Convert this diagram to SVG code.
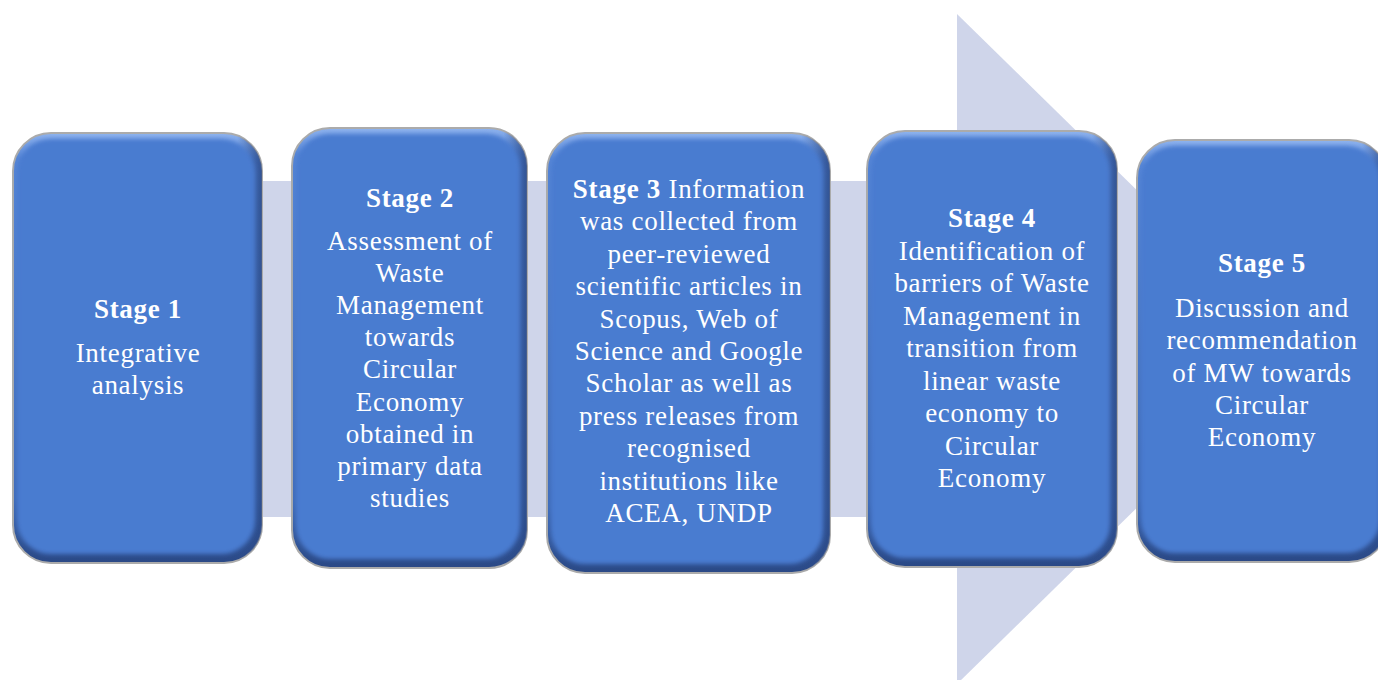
<svg xmlns="http://www.w3.org/2000/svg" width="1378" height="680" viewBox="0 0 1378 680">
  <defs>
    <style>
      .t { font-family: "Liberation Serif", "Times New Roman", serif; font-size: 27px; fill: #ffffff; text-anchor: middle; letter-spacing: 0.7px; }
      .b { font-weight: bold; }
      .rim { fill: url(#bevel); stroke: #ababab; stroke-width: 2; }
      .side { fill: url(#sideShade); }
      .body { fill: #4a7bd0; filter: url(#soft); }
    </style>
    <linearGradient id="bevel" x1="0" y1="0" x2="0" y2="1">
      <stop offset="0" stop-color="#8fb3ee"/>
      <stop offset="0.06" stop-color="#5585d6"/>
      <stop offset="0.85" stop-color="#3f6bb8"/>
      <stop offset="1" stop-color="#2a4885"/>
    </linearGradient>
    <linearGradient id="sideShade" x1="0" y1="0" x2="1" y2="0">
      <stop offset="0.9" stop-color="#2a4885" stop-opacity="0"/>
      <stop offset="1" stop-color="#2a4885" stop-opacity="0.8"/>
    </linearGradient>
    <filter id="soft" x="-5%" y="-5%" width="110%" height="110%">
      <feGaussianBlur stdDeviation="2"/>
    </filter>
  </defs>

  <rect width="1378" height="680" fill="#ffffff"/>

  <!-- background process arrow -->
  <g id="connectors">
    <rect x="30" y="181" width="930" height="336" fill="#cfd5ea"/>
    <polygon points="957,14 1299,349 957,684" fill="#cfd5ea"/>
  </g>

  <!-- Stage 1 -->
  <g id="stage1">
    <rect class="rim" x="13" y="133" width="249" height="430" rx="38"/>
    <rect class="side" x="13" y="133" width="249" height="430" rx="38"/>
    <rect class="body" x="17" y="139" width="238" height="415" rx="34"/>
    <text class="t b" x="138" y="318">Stage 1</text>
    <text class="t" x="138" y="362">Integrative</text>
    <text class="t" x="138" y="394">analysis</text>
  </g>

  <!-- Stage 2 -->
  <g id="stage2">
    <rect class="rim" x="292" y="128" width="235" height="440" rx="38"/>
    <rect class="side" x="292" y="128" width="235" height="440" rx="38"/>
    <rect class="body" x="296" y="134" width="224" height="425" rx="34"/>
    <text class="t b" x="410" y="207">Stage 2</text>
    <text class="t" x="410" y="250">Assessment of</text>
    <text class="t" x="410" y="282">Waste</text>
    <text class="t" x="410" y="314">Management</text>
    <text class="t" x="410" y="346">towards</text>
    <text class="t" x="410" y="378">Circular</text>
    <text class="t" x="410" y="411">Economy</text>
    <text class="t" x="410" y="443">obtained in</text>
    <text class="t" x="410" y="475">primary data</text>
    <text class="t" x="410" y="507">studies</text>
  </g>

  <!-- Stage 3 -->
  <g id="stage3">
    <rect class="rim" x="547" y="133" width="283" height="440" rx="38"/>
    <rect class="side" x="547" y="133" width="283" height="440" rx="38"/>
    <rect class="body" x="551" y="139" width="272" height="425" rx="34"/>
    <text class="t" x="689" y="198"><tspan class="b">Stage 3</tspan> Information</text>
    <text class="t" x="689" y="230">was collected from</text>
    <text class="t" x="689" y="263">peer-reviewed</text>
    <text class="t" x="689" y="295">scientific articles in</text>
    <text class="t" x="689" y="328">Scopus, Web of</text>
    <text class="t" x="689" y="360">Science and Google</text>
    <text class="t" x="689" y="392">Scholar as well as</text>
    <text class="t" x="689" y="425">press releases from</text>
    <text class="t" x="689" y="457">recognised</text>
    <text class="t" x="689" y="490">institutions like</text>
    <text class="t" x="689" y="522">ACEA, UNDP</text>
  </g>

  <!-- Stage 4 -->
  <g id="stage4">
    <rect class="rim" x="867" y="131" width="250" height="436" rx="38"/>
    <rect class="side" x="867" y="131" width="250" height="436" rx="38"/>
    <rect class="body" x="871" y="137" width="239" height="421" rx="34"/>
    <text class="t b" x="992" y="227">Stage 4</text>
    <text class="t" x="992" y="260">Identification of</text>
    <text class="t" x="992" y="292">barriers of Waste</text>
    <text class="t" x="992" y="325">Management in</text>
    <text class="t" x="992" y="357">transition from</text>
    <text class="t" x="992" y="390">linear waste</text>
    <text class="t" x="992" y="422">economy to</text>
    <text class="t" x="992" y="455">Circular</text>
    <text class="t" x="992" y="487">Economy</text>
  </g>

  <!-- Stage 5 -->
  <g id="stage5">
    <rect class="rim" x="1137" y="140" width="250" height="422" rx="38"/>
    <rect class="side" x="1137" y="140" width="250" height="422" rx="38"/>
    <rect class="body" x="1141" y="146" width="239" height="407" rx="34"/>
    <text class="t b" x="1262" y="272">Stage 5</text>
    <text class="t" x="1262" y="317">Discussion and</text>
    <text class="t" x="1262" y="349">recommendation</text>
    <text class="t" x="1262" y="382">of MW towards</text>
    <text class="t" x="1262" y="414">Circular</text>
    <text class="t" x="1262" y="446">Economy</text>
  </g>
</svg>
